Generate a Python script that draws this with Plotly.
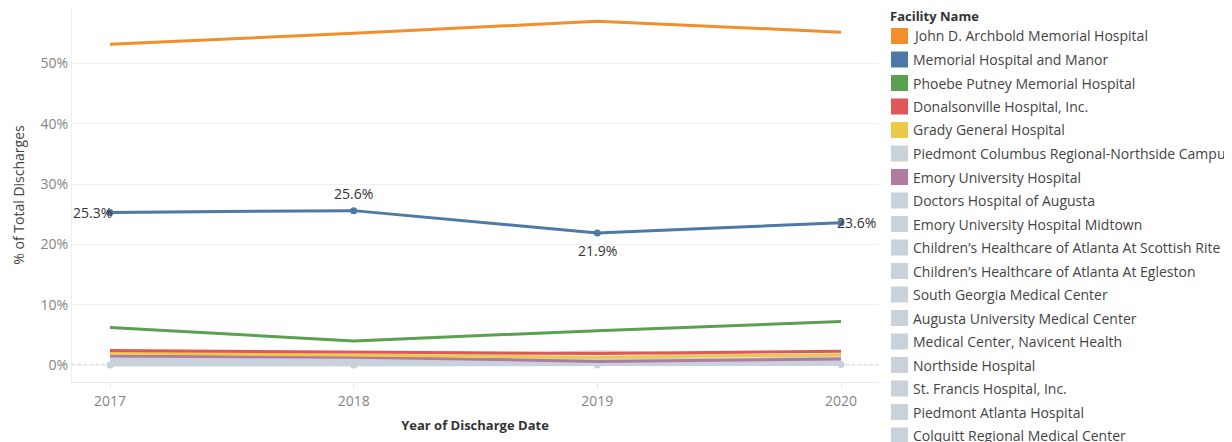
import plotly.graph_objects as go

years = [2017, 2018, 2019, 2020]

facilities = [
    "John D. Archbold Memorial Hospital",
    "Memorial Hospital and Manor",
    "Phoebe Putney Memorial Hospital",
    "Donalsonville Hospital, Inc.",
    "Grady General Hospital",
    "Piedmont Columbus Regional-Northside Campus",
    "Emory University Hospital",
    "Doctors Hospital of Augusta",
    "Emory University Hospital Midtown",
    "Children\u2019s Healthcare of Atlanta At Scottish Rite",
    "Children\u2019s Healthcare of Atlanta At Egleston",
    "South Georgia Medical Center",
    "Augusta University Medical Center",
    "Medical Center, Navicent Health",
    "Northside Hospital",
    "St. Francis Hospital, Inc.",
    "Piedmont Atlanta Hospital",
    "Colquitt Regional Medical Center",
]

values = {
    "John D. Archbold Memorial Hospital": [53.2, 55.0, 57.0, 55.2],
    "Memorial Hospital and Manor": [25.3, 25.6, 21.9, 23.6],
    "Phoebe Putney Memorial Hospital": [6.2, 4.0, 5.7, 7.2],
    "Donalsonville Hospital, Inc.": [2.4, 2.2, 1.9, 2.3],
    "Grady General Hospital": [2.0, 1.6, 1.3, 1.7],
    "Piedmont Columbus Regional-Northside Campus": [1.1, 1.0, 2.2, 1.2],
    "Emory University Hospital": [1.5, 1.3, 0.6, 1.0],
    "Doctors Hospital of Augusta": [1.0, 0.9, 0.8, 1.1],
    "Emory University Hospital Midtown": [0.9, 0.8, 0.9, 1.0],
    "Children\u2019s Healthcare of Atlanta At Scottish Rite": [0.8, 0.7, 0.6, 0.9],
    "Children\u2019s Healthcare of Atlanta At Egleston": [0.7, 0.6, 0.5, 0.8],
    "South Georgia Medical Center": [0.6, 0.6, 0.4, 0.7],
    "Augusta University Medical Center": [0.5, 0.5, 0.4, 0.6],
    "Medical Center, Navicent Health": [0.4, 0.4, 0.3, 0.5],
    "Northside Hospital": [0.3, 0.3, 0.3, 0.4],
    "St. Francis Hospital, Inc.": [0.3, 0.2, 0.2, 0.3],
    "Piedmont Atlanta Hospital": [0.2, 0.2, 0.1, 0.2],
    "Colquitt Regional Medical Center": [0.0, 0.0, 0.0, 0.1],
}

colors = {
    "John D. Archbold Memorial Hospital": "#f28e2b",
    "Memorial Hospital and Manor": "#4e79a7",
    "Phoebe Putney Memorial Hospital": "#59a14f",
    "Donalsonville Hospital, Inc.": "#e15759",
    "Grady General Hospital": "#edc948",
    "Emory University Hospital": "#b07aa1",
}
GRAY = "#c9d1db"

LABELED = "Memorial Hospital and Manor"
# (xanchor, yanchor, xshift, yshift) for each labelled point
label_style = [("right", "middle", 4, 0), ("center", "bottom", 0, 6),
               ("center", "top", 0, -6), ("left", "middle", -6, 0)]

FONT = "Open Sans, Lato, sans-serif"

fig = go.Figure()

order = [f for f in reversed(facilities) if f not in colors] + [f for f in reversed(facilities) if f in colors]
for f in order:
    c = colors.get(f, GRAY)
    if f == LABELED or f == "Colquitt Regional Medical Center":
        fig.add_trace(go.Scatter(
            x=years, y=values[f], name=f, mode="lines+markers",
            line=dict(color=c, width=3), marker=dict(color=c, size=7),
            showlegend=False, cliponaxis=False))
    else:
        fig.add_trace(go.Scatter(
            x=years, y=values[f], name=f, mode="lines",
            line=dict(color=c, width=3), showlegend=False))

# page has an 8px body margin; geometry below is in figure pixels
OFF = 8
W, H = 1232 - OFF, 442 - OFF
L, R, T, B = 72 - OFF, 878 - OFF, 0, 382 - OFF
pw, ph = R - L, B - T

def px_x(x):
    return (x - OFF - L) / pw

def px_y(y):
    return (B - (y - OFF)) / ph

shapes = [dict(type="line", xref="paper", yref="y", x0=0, x1=1, y0=0, y1=0,
               line=dict(color="#b5b5b5", width=1, dash="dot"), layer="below")]
annotations = [dict(text="<b>Facility Name</b>", xref="paper", yref="paper",
                    x=px_x(888), y=px_y(16), xanchor="left", yanchor="middle",
                    showarrow=False, font=dict(family=FONT, size=13, color="#333333"))]
for i, f in enumerate(facilities):
    yc = 36 + 23.5 * i
    shapes.append(dict(type="rect", xref="paper", yref="paper",
                       x0=px_x(891), x1=px_x(908), y0=px_y(yc - 8), y1=px_y(yc + 8),
                       fillcolor=colors.get(f, GRAY), line=dict(width=0)))
    annotations.append(dict(text=f, xref="paper", yref="paper",
                            x=px_x(911), y=px_y(yc), xanchor="left", yanchor="middle",
                            showarrow=False, font=dict(family=FONT, size=14, color="#444444")))

for (xv, yv, (xa, ya, xs, ys)) in zip(years, values[LABELED], label_style):
    annotations.append(dict(text=f"{yv:.1f}%", x=xv, y=yv, xref="x", yref="y",
                            xanchor=xa, yanchor=ya, xshift=xs, yshift=ys,
                            showarrow=False,
                            font=dict(family=FONT, size=14, color="#333333")))

# y range so that 0% sits at page y=365 and 10% spans 60.3 px
ppu = 6.03
y_top = (365 - OFF - T) / ppu
y_bot = -((B) - (365 - OFF)) / ppu
# x range so that 2017 sits at page x=110 and 2020 at page x=841
xpp = (2020 - 2017) / (841 - 110)
x_lo = 2017 - (110 - OFF - L) * xpp
x_hi = 2020 + (R - (841 - OFF)) * xpp

fig.update_layout(
    width=W, height=H,
    margin=dict(l=L, r=W - R, t=T, b=H - B),
    paper_bgcolor="white", plot_bgcolor="white",
    font=dict(family=FONT, size=13, color="#666666"),
    shapes=shapes, annotations=annotations,
    xaxis=dict(range=[x_lo, x_hi], tickvals=years, ticktext=[str(y) for y in years],
               showgrid=False, zeroline=False, showline=True, linecolor="#e8e8e8",
               ticks="outside", ticklen=6, tickcolor="#e8e8e8",
               tickfont=dict(family=FONT, size=14, color="#858585"),
               title=dict(text="<b>Year of Discharge Date</b>", standoff=12,
                          font=dict(family=FONT, size=13, color="#333333"))),
    yaxis=dict(range=[y_bot, y_top], tickvals=[0, 10, 20, 30, 40, 50],
               ticktext=["0%", "10%", "20%", "30%", "40%", "50%"],
               showgrid=True, gridcolor="#f0f0f0", zeroline=False,
               showline=True, linecolor="#eeeeee",
               tickfont=dict(family=FONT, size=14, color="#858585"),
               title=dict(text="% of Total Discharges", standoff=12,
                          font=dict(family=FONT, size=14, color="#444444"))),
)

fig.write_html("out.html")
